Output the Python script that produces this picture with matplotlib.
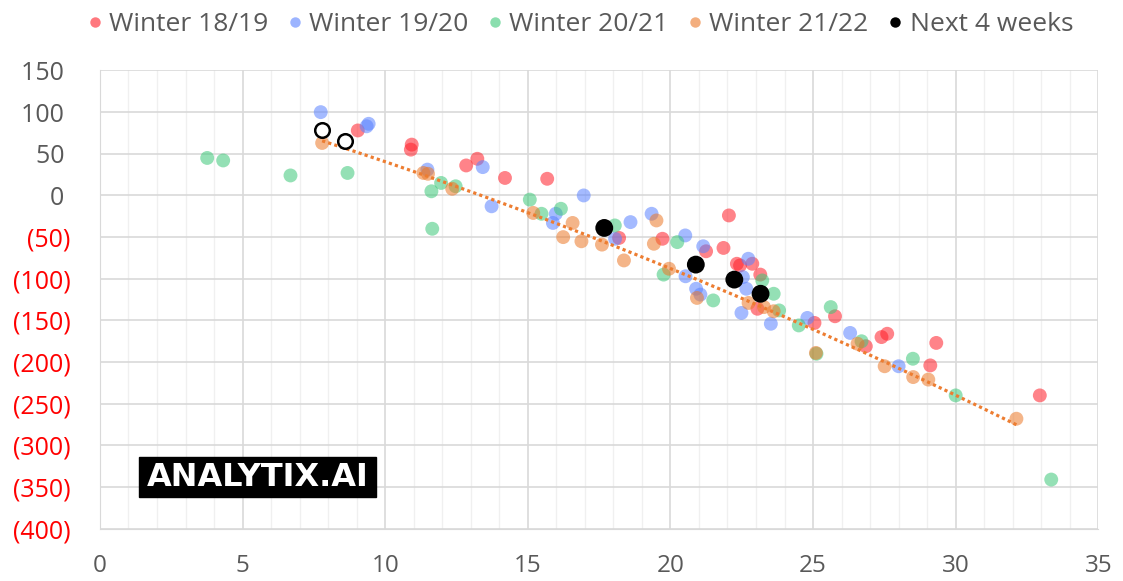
import numpy as np
import matplotlib
matplotlib.use("Agg")
import matplotlib.pyplot as plt
from matplotlib.lines import Line2D
from matplotlib.patches import Rectangle

plt.rcParams['font.family'] = ['Open Sans', 'DejaVu Sans']

# données
w1819_x = [9.04, 10.93, 10.9, 12.84, 13.23, 14.2, 15.68, 18.2, 19.72, 21.25, 21.86, 22.05,
           22.33, 22.44, 22.87, 23.15, 23.05, 25.05, 25.77, 26.85, 27.4, 27.6, 29.11, 29.32, 32.95]
w1819_y = [78, 61, 55, 36, 44, 21, 20, -51, -52, -67, -63, -24,
           -82, -84, -82, -95, -136, -153, -145, -181, -170, -166, -204, -177, -240]

w1920_x = [7.74, 9.35, 9.42, 11.48, 13.42, 13.73, 15.98, 15.88, 16.96, 18.06, 18.6, 19.34,
           20.52, 20.53, 20.9, 21.05, 21.15, 22.54, 22.66, 22.73, 22.49, 23.52, 24.8, 26.3, 28.0]
w1920_y = [100, 83, 86, 31, 34, -13, -22, -33, 0, -52, -32, -22,
           -48, -97, -112, -119, -61, -98, -112, -76, -141, -154, -147, -165, -205]

w2021_x = [3.76, 4.32, 6.68, 8.68, 11.62, 11.96, 12.47, 11.65, 15.07, 15.48, 16.16, 18.05,
           20.24, 19.76, 21.5, 23.22, 23.62, 23.81, 24.5, 25.62, 25.12, 26.7, 28.5, 30.0, 33.35]
w2021_y = [45, 42, 24, 27, 5, 15, 11, -40, -5, -22, -16, -36,
           -56, -95, -126, -102, -118, -138, -156, -134, -190, -175, -196, -240, -341]

w2122_x = [7.79, 11.34, 11.5, 12.35, 15.19, 16.24, 16.57, 16.88, 17.6, 18.37, 19.42, 19.51,
           19.95, 20.93, 22.74, 23.28, 23.62, 25.1, 26.56, 27.51, 28.51, 29.04, 32.13]
w2122_y = [63, 27, 26, 8, -21, -50, -33, -55, -59, -78, -58, -30,
           -88, -123, -129, -134, -139, -189, -178, -205, -218, -221, -268]

next_x = [17.68, 20.89, 22.24, 23.16]
next_y = [-39, -83, -101, -118]

open_x = [7.77, 8.59]
open_y = [79, 65]

labels = ['Winter 18/19', 'Winter 19/20', 'Winter 20/21', 'Winter 21/22', 'Next 4 weeks']
colores = ['#FF1E28', '#5A82FF', '#3CC878', '#EB7828', 'black']

y_ticks = list(range(-400, 151, 50))
x_ticks = list(range(0, 36, 5))

fig = plt.figure(figsize=(11.23, 5.81), dpi=100)
ax = fig.add_axes([0.089, 0.09, 0.889, 0.7887])

series = [(w1819_x, w1819_y), (w1920_x, w1920_y), (w2021_x, w2021_y), (w2122_x, w2122_y)]
for (xs, ys), c in zip(series, colores[:4]):
    ax.scatter(xs, ys, s=100, color=c, alpha=0.55, edgecolors='none', zorder=3)

# línea de tendencia (polinómica, orden 2) de la serie 21/22
coef = np.polyfit(w2122_x, w2122_y, 2)
xt = np.linspace(min(w2122_x), max(w2122_x), 200)
ax.plot(xt, np.polyval(coef, xt), color='#ED7D31', lw=2.3, linestyle=(0, (1, 1.0)),
        zorder=4)

ax.scatter(next_x, next_y, s=165, color='black', edgecolors='none', zorder=5)
ax.scatter(open_x, open_y, s=110, facecolors='white', edgecolors='black', linewidths=1.8, zorder=5)

ax.set_xlim(0, 35)
ax.set_ylim(-400, 150)
ax.set_xticks(x_ticks)
ax.set_xticks(range(0, 36), minor=True)
ax.set_yticks(y_ticks)
ax.set_yticklabels([f"({abs(v)})" if v < 0 else f"{v} " for v in y_ticks])
ax.tick_params(axis='both', which='both', length=0, labelsize=17.5)
ax.tick_params(axis='y', pad=21, labelsize=18)
ax.tick_params(axis='x', pad=18, labelcolor='#595959')
for lab, v in zip(ax.get_yticklabels(), y_ticks):
    lab.set_color('red' if v < 0 else '#595959')

ax.grid(True, which='major', axis='both', color='#D9D9D9', lw=1.2, zorder=0)
ax.grid(True, which='minor', axis='x', color='#F0F0F0', lw=1.0, zorder=0)
ax.set_axisbelow(True)
for s in ax.spines.values():
    s.set_color('#D9D9D9')
ax.spines['top'].set_visible(False)
ax.spines['right'].set_visible(False)

# leyenda
handles = [Line2D([], [], linestyle='none', marker='o', markersize=7.5,
                  markerfacecolor=c, markeredgecolor='none',
                  alpha=(1 if c == 'black' else 0.6)) for c in colores]
leg = fig.legend(handles, labels, loc='upper center', bbox_to_anchor=(0.514, 1.02), ncol=5,
                 frameon=False, fontsize=19, handletextpad=0.05, columnspacing=0.5,
                 handlelength=1.0)
for t in leg.get_texts():
    t.set_color('#595959')

# logo
fig.patches.append(Rectangle((139 / 1123, 1 - 497 / 581), 237 / 1123, 40 / 581,
                             transform=fig.transFigure, color='black', zorder=10))
fig.text(257.5 / 1123, 1 - 477 / 581, 'ANALYTIX.AI', color='white', fontsize=23,
         fontweight='bold', family='DejaVu Sans', ha='center', va='center', zorder=11)

fig.savefig('out.png', dpi=100)
